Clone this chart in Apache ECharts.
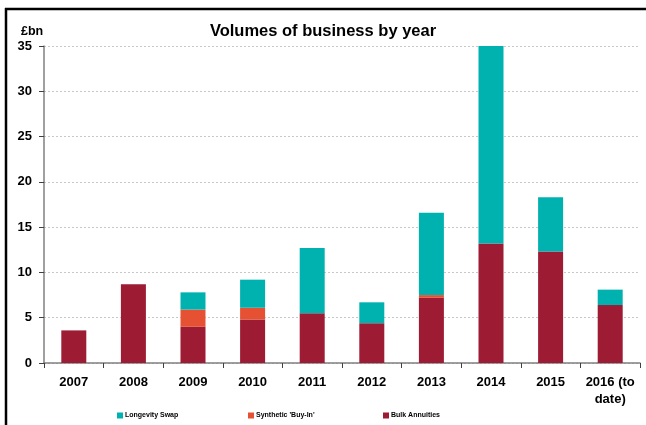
<!DOCTYPE html>
<html>
<head>
<meta charset="utf-8">
<script src="https://cdn.jsdelivr.net/npm/echarts@6/dist/echarts.min.js"></script>
<style>
  html, body { margin: 0; padding: 0; background: #fff; }
  #chart { width: 646px; height: 425px; }
</style>
</head>
<body>
<div id="chart"></div>
<script>
// data (£bn)
const years = ['2007', '2008', '2009', '2010', '2011', '2012', '2013', '2014', '2015', '2016 (to\ndate)']
const bulkAnnuities = [3.6, 8.7, 4.0, 4.8, 5.5, 4.4, 7.2, 13.2, 12.3, 6.4]
const syntheticBuyIn = [0, 0, 1.9, 1.3, 0, 0, 0.3, 0, 0, 0]
const longevitySwap = [0, 0, 1.9, 3.1, 7.2, 2.3, 9.1, 21.8, 6.0, 1.7]
const yTicks = [0, 5, 10, 15, 20, 25, 30, 35]

const font = 'Liberation Sans, Arial, sans-serif'
const chart = echarts.init(document.getElementById('chart'))

// one small legend per series so each can sit where the original has it
function legendAt(name, left) {
  return {
    data: [name],
    top: 407,
    left: left,
    itemWidth: 6,
    itemHeight: 6,
    icon: 'rect',
    textStyle: { fontSize: 7, fontWeight: 'bold', color: '#000', fontFamily: font, padding: [0, 0, 0, -3] }
  }
}

chart.setOption({
  animation: false,
  textStyle: { fontFamily: font },
  title: [
    {
      text: 'Volumes of business by year',
      left: 'center',
      top: 18,
      textStyle: { fontSize: 16.5, fontWeight: 'bold', color: '#000', fontFamily: font }
    },
    {
      text: '£bn',
      left: 16,
      top: 20,
      textStyle: { fontSize: 12.5, fontWeight: 'bold', color: '#000', fontFamily: font }
    }
  ],
  legend: [
    legendAt('Longevity Swap', 112),
    legendAt("Synthetic 'Buy-In'", 243),
    legendAt('Bulk Annuities', 378)
  ],
  grid: { left: 44, right: 6, top: 46, bottom: 62 },
  xAxis: {
    type: 'category',
    data: years,
    axisLine: { lineStyle: { color: '#808080', width: 1.5 } },
    axisTick: { show: true, length: 5, lineStyle: { color: '#404040' } },
    axisLabel: {
      color: '#000', fontSize: 13, fontWeight: 'bold', margin: 11, lineHeight: 17, fontFamily: font,
      interval: 0
    }
  },
  yAxis: {
    type: 'value',
    min: 0,
    max: yTicks[yTicks.length - 1],
    interval: yTicks[1] - yTicks[0],
    axisLine: { show: true, lineStyle: { color: '#808080', width: 1.5 } },
    axisTick: { show: true, length: 5, lineStyle: { color: '#404040' } },
    axisLabel: { color: '#000', fontSize: 13, fontWeight: 'bold', margin: 12, fontFamily: font },
    splitLine: { lineStyle: { type: [2, 2], color: '#c8c8c8' } }
  },
  series: [
    {
      name: 'Bulk Annuities',
      type: 'bar',
      stack: 'total',
      barWidth: 25,
      data: bulkAnnuities,
      itemStyle: { color: '#9e1b34' }
    },
    {
      name: "Synthetic 'Buy-In'",
      type: 'bar',
      stack: 'total',
      barWidth: 25,
      data: syntheticBuyIn,
      itemStyle: { color: '#e65133' }
    },
    {
      name: 'Longevity Swap',
      type: 'bar',
      stack: 'total',
      barWidth: 25,
      data: longevitySwap,
      itemStyle: { color: '#00b2af' }
    }
  ],
  graphic: [
    // frame round the chart (top and left edges visible)
    { type: 'line', shape: { x1: 5, y1: 9, x2: 646, y2: 9 }, style: { stroke: '#000', lineWidth: 2.5 } },
    { type: 'line', shape: { x1: 6, y1: 8, x2: 6, y2: 425 }, style: { stroke: '#000', lineWidth: 2.5 } }
  ]
})
</script>
</body>
</html>
